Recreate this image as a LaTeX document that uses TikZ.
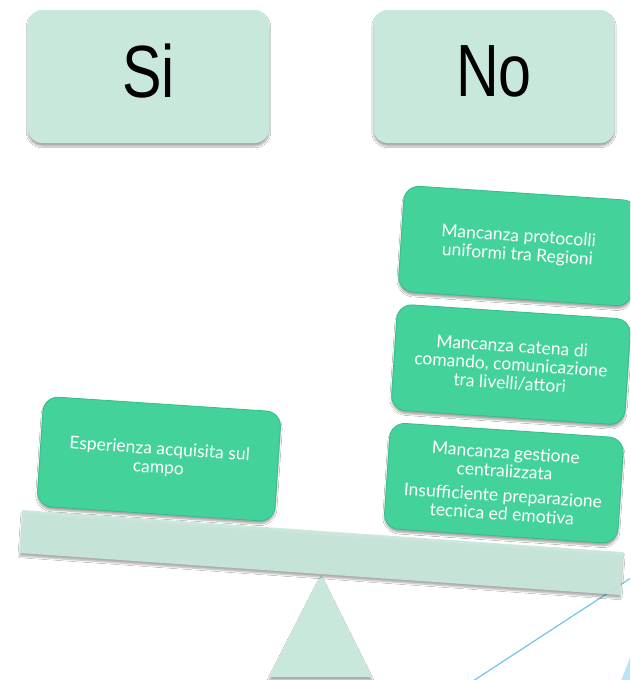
\documentclass[tikz,border=0pt]{standalone}
\usepackage{fontspec}
\usepackage{tikz}
\usetikzlibrary{positioning,shadows.blur}
\newfontfamily\boxfont{Lato}
\newfontfamily\signfont[FakeStretch=0.8]{Liberation Sans}
\definecolor{PaleGreen}{RGB}{201,232,220}
\definecolor{BoxGreen}{RGB}{68,210,155}
\definecolor{EdgeGreen}{RGB}{52,188,138}
\definecolor{LineBlue}{RGB}{112,198,236}
\definecolor{WedgeBlue}{RGB}{188,228,245}

\begin{document}
\begin{tikzpicture}[x=1pt,y=-1pt,node distance=12pt,
  softshadow/.style={blur shadow={shadow xshift=0pt,shadow yshift=-3pt,shadow blur steps=6,shadow opacity=35}},
  pale/.style={fill=PaleGreen,rounded corners=14pt,minimum width=241pt,minimum height=133pt,softshadow},
  sign/.style={font=\signfont\fontsize{74}{80}\selectfont,text=black,inner sep=0pt},
  factor/.style={fill=BoxGreen,draw=EdgeGreen,line width=0.8pt,rounded corners=15pt,
    minimum width=234pt,minimum height=106pt,rotate=-3.8,text=white,align=center,
    font=\boxfont\fontsize{17.5}{18.5}\selectfont,softshadow},
  beam/.style={fill=PaleGreen,fill opacity=0.92,minimum width=602pt,minimum height=43pt,rotate=-4,softshadow}]

\clip (0,0) rectangle (630,680);
\fill[white] (0,0) rectangle (630,680);

\node[pale] (SI) at (148.5,76.5) {};
\node[pale] (NO) at (494,76.5) {};
\node[sign] at ([yshift=5pt]SI.center) {Si};
\node[sign] at ([yshift=5pt]NO.center) {No};

\draw[LineBlue,line width=1.2pt] (470,683) -- (640,572);
\fill[WedgeBlue] (621,681) -- (631,655) -- (631,681) -- cycle;

\fill[PaleGreen,softshadow] (321,575) -- (372,677) -- (269,677) -- cycle;
\node[beam] (BEAM) at (321.5,552.5) {};

\node[factor,minimum width=238pt,minimum height=110pt] (E1) at (159,459) {Esperienza acquisita sul\\campo};

\node[factor] (M1) at (518,246) {Mancanza protocolli\\uniformi tra Regioni};
\node[factor] (M2) [below=12pt of M1] {Mancanza catena di\\comando, comunicazione\\tra livelli/attori};
\node[factor] (M3) [below=12pt of M2] {Mancanza gestione\\centralizzata\\[6pt]Insufficiente preparazione\\tecnica ed emotiva};

\end{tikzpicture}
\end{document}
